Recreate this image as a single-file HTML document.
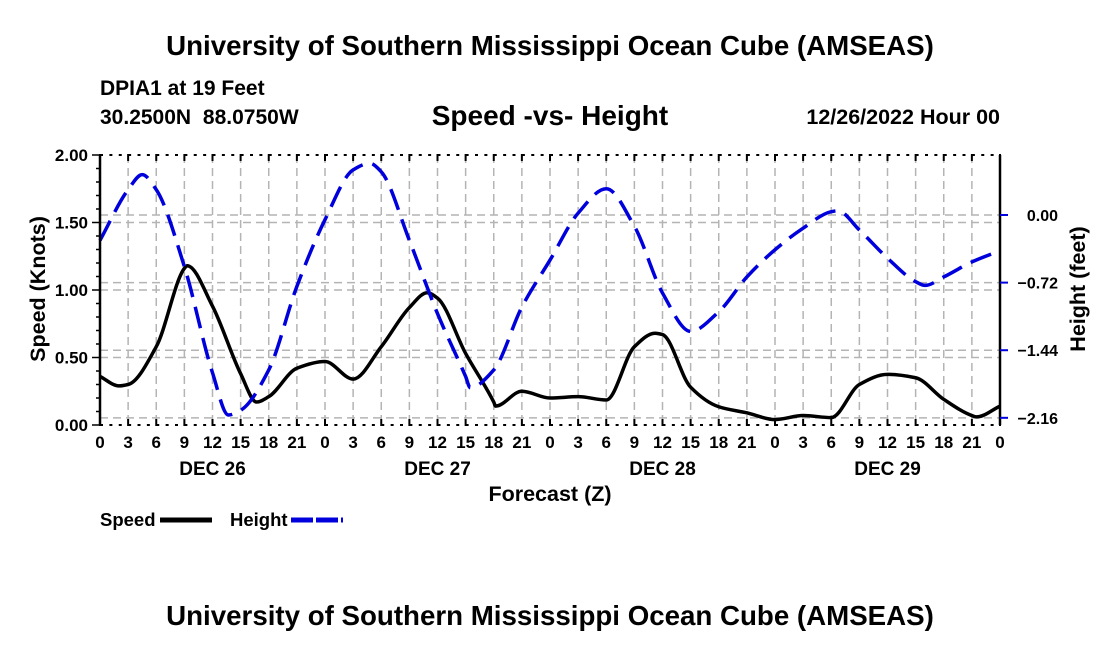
<!DOCTYPE html>
<html><head><meta charset="utf-8"><style>
body{margin:0;background:#fff;width:1100px;height:650px;overflow:hidden}
svg text{font-family:"Liberation Sans",sans-serif;font-weight:bold;fill:#000}
</style></head><body>
<svg id="chart" width="1100" height="650" xmlns="http://www.w3.org/2000/svg">
<text x="550" y="55" text-anchor="middle" font-size="27.7">University of Southern Mississippi Ocean Cube (AMSEAS)</text>
<text x="100" y="95" font-size="21">DPIA1 at 19 Feet</text>
<text x="100" y="124" font-size="21" word-spacing="6">30.2500N 88.0750W</text>
<text x="550" y="125" text-anchor="middle" font-size="28">Speed -vs- Height</text>
<text x="1000" y="124" text-anchor="end" font-size="21.5">12/26/2022 Hour 00</text>
<g id="grid"></g>
<g id="series"></g>
<g id="axes"></g>
<text x="550" y="501" text-anchor="middle" font-size="21.5">Forecast (Z)</text>
<text transform="translate(45,289) rotate(-90)" text-anchor="middle" font-size="21.5">Speed (Knots)</text>
<text transform="translate(1085,289) rotate(-90)" text-anchor="middle" font-size="21.5">Height (feet)</text>
<g>
<text x="100" y="526" font-size="18.5">Speed</text>
<line x1="160" y1="520" x2="212" y2="520" stroke="#000" stroke-width="5"/>
<text x="230" y="526" font-size="18.5">Height</text>
<line x1="291" y1="520" x2="343" y2="520" stroke="#0000dd" stroke-width="5" stroke-dasharray="22,3"/>
</g>
<text x="550" y="625" text-anchor="middle" font-size="27.7">University of Southern Mississippi Ocean Cube (AMSEAS)</text>
</svg>
<script>
const speedHours=[0,2,3,6,9,9.3,12,15,16.7,18,21,24,27,30,33,34.9,36,39,42,42.2,45,48,51,54,57,59.2,60,63,66,69,72,75,78,81,84,87,90,93,93.5,96];
const speedValues=[0.36,0.29,0.30,0.58,1.16,1.18,0.88,0.38,0.17,0.21,0.42,0.47,0.34,0.58,0.87,0.98,0.94,0.53,0.17,0.14,0.25,0.20,0.21,0.185,0.58,0.68,0.67,0.28,0.135,0.09,0.04,0.07,0.055,0.30,0.375,0.35,0.19,0.07,0.06,0.14];
const heightHours=[0,3,4.5,6,9,12,13.7,15,18,21,24,27,28.8,30,33,36,39,39.5,42,45,48,51,54,57,60,63,66,69,72,75,78,78.7,81,84,87,88,90,93,96];
const heightValues=[-0.27,0.27,0.43,0.27,-0.55,-1.68,-2.13,-2.08,-1.65,-0.76,-0.05,0.48,0.55,0.46,-0.27,-1.05,-1.72,-1.84,-1.65,-0.98,-0.48,0.02,0.28,-0.12,-0.83,-1.24,-1.03,-0.66,-0.37,-0.14,0.035,0.045,-0.16,-0.46,-0.71,-0.75,-0.66,-0.50,-0.38];
const xTickLabels=["0","3","6","9","12","15","18","21","0","3","6","9","12","15","18","21","0","3","6","9","12","15","18","21","0","3","6","9","12","15","18","21","0"];
const dateLabels=["DEC 26","DEC 27","DEC 28","DEC 29"];
const speedTicks=[0,0.5,1.0,1.5,2.0];
const heightTicks=[0,-0.72,-1.44,-2.16];

const L=100,R=1000,T=155,B=425;
const xS=h=>L+h*(R-L)/96;
const yS=v=>B-v*(B-T)/2;
const yH=v=>215-v*93.9;
const NS="http://www.w3.org/2000/svg";
function mk(tag,attrs,parent){const e=document.createElementNS(NS,tag);for(const k in attrs)e.setAttribute(k,attrs[k]);parent.appendChild(e);return e;}
const grid=document.getElementById('grid'),axes=document.getElementById('axes'),ser=document.getElementById('series');

for(let i=1;i<32;i++){const l=mk('line',{x1:xS(i*3),x2:xS(i*3),y1:T,y2:B,stroke:'#b4b4b4','stroke-width':1.5,'stroke-dasharray':'8,5'},grid);

}
speedTicks.slice(1,4).forEach(v=>{const l=mk('line',{x1:L,x2:R,y1:yS(v),y2:yS(v),stroke:'#b4b4b4','stroke-width':1.5,'stroke-dasharray':'8,5'},grid);

});
heightTicks.forEach(v=>{const l=mk('line',{x1:L,x2:R,y1:yH(v),y2:yH(v),stroke:'#b4b4b4','stroke-width':1.5,'stroke-dasharray':'8,5'},grid);

});

function monoPath(xs,ys,fx,fy){
 const n=xs.length,d=[],m=[];
 for(let i=0;i<n-1;i++)d.push((ys[i+1]-ys[i])/(xs[i+1]-xs[i]));
 m[0]=d[0];m[n-1]=d[n-2];
 for(let i=1;i<n-1;i++){ if(d[i-1]*d[i]<=0)m[i]=0; else{const h0=xs[i]-xs[i-1],h1=xs[i+1]-xs[i];const w1=2*h1+h0,w2=h1+2*h0;m[i]=(w1+w2)/(w1/d[i-1]+w2/d[i]);}}
 let p='M'+fx(xs[0]).toFixed(2)+','+fy(ys[0]).toFixed(2);
 for(let i=0;i<n-1;i++){const h=xs[i+1]-xs[i];
  const x1=xs[i]+h/3,y1=ys[i]+m[i]*h/3,x2=xs[i+1]-h/3,y2=ys[i+1]-m[i+1]*h/3;
  p+=' C'+fx(x1).toFixed(2)+','+fy(y1).toFixed(2)+' '+fx(x2).toFixed(2)+','+fy(y2).toFixed(2)+' '+fx(xs[i+1]).toFixed(2)+','+fy(ys[i+1]).toFixed(2);}
 return p;}
const sp=mk('path',{d:monoPath(speedHours,speedValues,xS,yS),fill:'none',stroke:'#000','stroke-width':3.5,'stroke-linejoin':'round'},ser);


const hp=mk('path',{d:monoPath(heightHours,heightValues,xS,yH),fill:'none',stroke:'#0000dd','stroke-width':3.5,'stroke-dasharray':'22,10'},ser);



[[L,T,L,B],[R,T,R,B]].forEach(c=>{const l=mk('line',{x1:c[0],y1:c[1],x2:c[2],y2:c[3],stroke:'#000','stroke-width':2.5},axes);

});
[T,B].forEach(y=>{const l=mk('line',{x1:L,x2:R,y1:y,y2:y,stroke:'#000','stroke-width':2,'stroke-dasharray':'3,6.375'},axes);

});
for(let i=0;i<=32;i++){const x=xS(i*3);
 const t1=mk('line',{x1:x,x2:x,y1:B-6,y2:B+1,stroke:'#000','stroke-width':2},axes);
 
 
 const t2=mk('line',{x1:x,x2:x,y1:T-1,y2:T+6,stroke:'#000','stroke-width':2},axes);
 
 
 const tx=mk('text',{x:x,y:B+23,'text-anchor':'middle','font-size':17},axes);tx.textContent=xTickLabels[i];
 
 }
dateLabels.forEach((d,i)=>{const t=mk('text',{x:xS(12+24*i),y:B+50,'text-anchor':'middle','font-size':19},axes);t.textContent=d;
 
 });
for(let i=0;i<=20;i++){const y=yS(i*0.1),len=i%5==0?8:4;
 const l=mk('line',{x1:L-len,x2:L,y1:y,y2:y,stroke:'#000','stroke-width':1.5},axes);
 
 }
speedTicks.forEach(v=>{const t=mk('text',{x:L-12,y:yS(v)+6,'text-anchor':'end','font-size':17},axes);t.textContent=v.toFixed(2);
 
 });
heightTicks.forEach(v=>{const y=yH(v);
 const l=mk('line',{x1:R,x2:R+8,y1:y,y2:y,stroke:'#0000dd','stroke-width':2},axes);
 
 
 const t=mk('text',{x:1058,y:y+6,'text-anchor':'end','font-size':16},axes);t.textContent=(v===0?'0.00':'\u2212'+Math.abs(v).toFixed(2));
 
 });
</script>
</body></html>
